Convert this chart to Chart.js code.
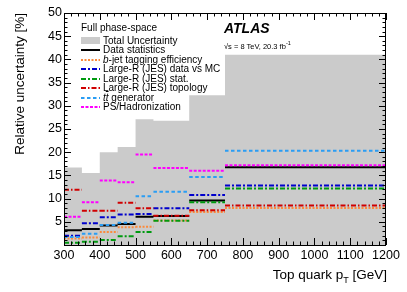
<!DOCTYPE html>
<html>
<head>
<meta charset="utf-8">
<script src="https://cdn.jsdelivr.net/npm/chart.js@4/dist/chart.umd.min.js"></script>
<style>
  body { margin: 0; background: #fff; }
  #wrap { position: relative; width: 407px; height: 292px; font-family: "Liberation Sans", Arial, Helvetica, sans-serif; color: #000; }
  #wrap canvas { position: absolute; left: 0; top: 0; }
  .txt { position: absolute; white-space: nowrap; }
  .row { position: absolute; left: 81px; height: 10px; white-space: nowrap; font-size: 10px; line-height: 10px; }
  .row svg { position: absolute; left: 0; top: 1px; }
  .row span { position: absolute; left: 22px; top: 0; }
</style>
</head>
<body>
<div id="wrap">
  <canvas id="c" width="407" height="292"></canvas>
  <div class="txt" style="left:81px;top:23px;font-size:10px;line-height:10px">Full phase-space</div>
  <div id="legend"></div>
  <div class="txt" style="left:224px;top:20px;font-size:14px;line-height:16px;font-weight:bold;font-style:italic">ATLAS</div>
  <div class="txt" style="left:224px;top:39px;font-size:7.5px;line-height:9px">&radic;s = 8 TeV, 20.3 fb<sup style="font-size:5.5px">-1</sup></div>
  <div class="txt" style="right:20px;top:267px;font-size:13.5px;line-height:16px">Top quark p<sub style="font-size:9px;vertical-align:-4px">T</sub> [GeV]</div>
</div>
<script>
// bin edges in GeV, one value per bin
const binEdges = [300, 350, 400, 450, 500, 550, 650, 750, 1200]

const totalUnc  = [16.7, 15.5, 20.0, 21.1, 27.1, 26.8, 32.3, 41.0]
const dataStat  = [3.2, 3.45, 4.2, 4.5, 6.1, 6.25, 9.6, 16.75]
const bTag      = [1.4, 1.6, 2.8, 3.85, 3.95, 5.3, 7.1, 8.0]
const jesDataMC = [2.0, 4.7, 6.0, 6.6, 6.7, 7.9, 10.8, 12.8]
const jesStat   = [0.5, 0.7, 1.1, 1.9, 2.8, 5.2, 9.2, 12.15]
const jesTopo   = [11.9, 7.4, 7.4, 9.1, 7.9, 6.3, 7.5, 8.5]
const ttGen     = [1.75, 2.4, 4.3, 4.8, 10.5, 11.5, 14.65, 20.3]
const psHad     = [6.1, 9.2, 13.9, 13.55, 19.5, 16.6, 16.0, 17.2]

const yTicks = [5, 10, 15, 20, 25, 30, 35, 40, 45, 50]

const $ = s => document.querySelector(s)

// each bin as its own flat segment, broken by a null
function binSegments(vals) {
  const pts = []
  vals.forEach((v, i) => {
    pts.push({ x: binEdges[i], y: v }, { x: binEdges[i + 1], y: v }, { x: binEdges[i + 1], y: null })
  })
  return pts
}

// histogram outline: two points per bin, vertical jumps at the edges
function histArea(vals) {
  const pts = []
  vals.forEach((v, i) => {
    pts.push({ x: binEdges[i], y: v }, { x: binEdges[i + 1], y: v })
  })
  return pts
}

const series = [
  { label: "Data statistics", vals: dataStat, color: "#000000", dash: [] },
  { label: "<i>b</i>-jet tagging efficiency", vals: bTag, color: "#fb8a3c", dash: [2, 1.5] },
  { label: "Large-R (JES) data vs MC", vals: jesDataMC, color: "#0000cc", dash: [5, 2, 2, 2] },
  { label: "Large-R (JES) stat.", vals: jesStat, color: "#009a10", dash: [5, 2, 2, 2] },
  { label: "Large-R (JES) topology", vals: jesTopo, color: "#d00000", dash: [5, 2, 1.5, 2] },
  { label: "<i>t<span style=\"text-decoration:overline;position:static\">t</span></i> generator", vals: ttGen, color: "#2a9df4", dash: [3.5, 2.5] },
  { label: "PS/Hadronization", vals: psHad, color: "#ff00ff", dash: [3, 1.5] }
]

const datasets = [{
  label: "Total Uncertainty",
  data: histArea(totalUnc),
  fill: "origin",
  backgroundColor: "#cbcbcb",
  borderWidth: 0,
  pointRadius: 0,
  tension: 0,
  order: 20
}].concat(series.map((s, i) => ({
  label: s.label,
  data: binSegments(s.vals),
  borderColor: s.color,
  borderDash: s.dash,
  borderWidth: 2,
  pointRadius: 0,
  fill: false,
  spanGaps: false,
  order: 10 - i
})))

const frameTicks = {
  id: "frameTicks",
  afterDatasetsDraw(chart) {
    const { ctx, chartArea: a, scales: { x, y } } = chart
    ctx.save()
    ctx.strokeStyle = "#000"
    ctx.lineWidth = 1
    ctx.beginPath()
    for (let v = x.min; v <= x.max; v += 20) {
      const px = Math.round(x.getPixelForValue(v)) + 0.5
      const len = v % 100 === 0 ? 7 : 3.5
      ctx.moveTo(px, a.bottom); ctx.lineTo(px, a.bottom - len)
      ctx.moveTo(px, a.top); ctx.lineTo(px, a.top + len)
    }
    for (let v = y.min; v <= y.max; v += 1) {
      const py = Math.round(y.getPixelForValue(v)) + 0.5
      const len = v % 5 === 0 ? 7 : 3.5
      ctx.moveTo(a.left, py); ctx.lineTo(a.left + len, py)
      ctx.moveTo(a.right, py); ctx.lineTo(a.right - len, py)
    }
    ctx.stroke()
    ctx.strokeRect(Math.round(a.left) + 0.5, Math.round(a.top) + 0.5, Math.round(a.right - a.left) - 1, Math.round(a.bottom - a.top))
    ctx.restore()
  }
}

const tickFont = { family: "'Liberation Sans', Arial, sans-serif", size: 12.5 }

new Chart($("#c"), {
  type: "line",
  data: { datasets },
  options: {
    responsive: false,
    animation: false,
    layout: { padding: { top: 13, right: 21, left: 0, bottom: 0 } },
    plugins: { legend: { display: false }, tooltip: { enabled: false } },
    scales: {
      x: {
        type: "linear", min: 300, max: 1200,
        grid: { display: false }, border: { display: false },
        ticks: { stepSize: 100, color: "#000", font: tickFont, padding: -5, maxRotation: 0, autoSkip: false, callback: v => String(v) },
        afterFit: s => { s.height = 47 }
      },
      y: {
        type: "linear", min: 0, max: 50,
        grid: { display: false }, border: { display: false },
        afterBuildTicks: s => { s.ticks = yTicks.map(v => ({ value: v })) },
        ticks: { color: "#000", font: tickFont, padding: -6, callback: v => String(v) },
        title: {
          display: true, text: "Relative uncertainty [%]", align: "end", color: "#000",
          font: { family: "'Liberation Sans', Arial, sans-serif", size: 13.5 },
          padding: { top: 12, bottom: 0 }
        },
        afterFit: s => { s.width = 64 }
      }
    }
  },
  plugins: [frameTicks]
})

// legend rows
const leg = $("#legend")
const rowY = [36, 45, 55, 64, 74, 83, 93, 102]
let html = `<div class="row" style="top:${rowY[0]}px"><svg width="19" height="8"><rect x="0" y="0" width="19" height="7" fill="#cbcbcb"/></svg><span>Total Uncertainty</span></div>`
series.forEach((s, i) => {
  html += `<div class="row" style="top:${rowY[i + 1]}px"><svg width="19" height="8"><line x1="0" y1="4" x2="19" y2="4" stroke="${s.color}" stroke-width="2" stroke-dasharray="${s.dash.join(" ") || "none"}"/></svg><span>${s.label}</span></div>`
})
leg.innerHTML = html
</script>
</body>
</html>
